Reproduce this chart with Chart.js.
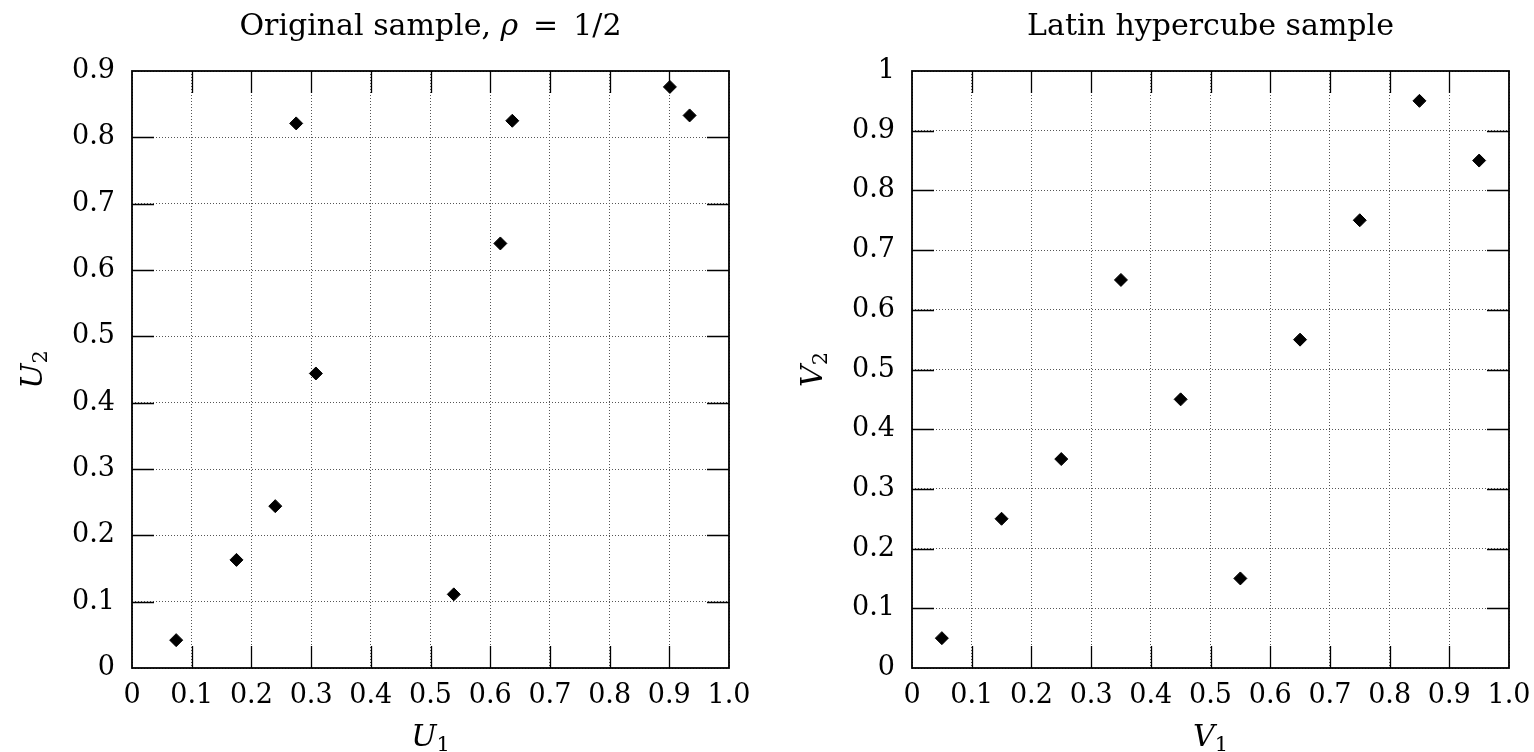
<!DOCTYPE html>
<html>
<head>
<meta charset="utf-8">
<script src="https://cdn.jsdelivr.net/npm/chart.js@4.4.1/dist/chart.umd.min.js"></script>
<style>
  html, body { margin: 0; padding: 0; background: #fff; }
  #wrap { position: relative; width: 1534px; height: 752px; }
  .panel { position: absolute; top: 0; width: 767px; height: 752px; }
</style>
</head>
<body>
<div id="wrap">
  <div class="panel" style="left:0"><canvas id="left" width="767" height="752"></canvas></div>
  <div class="panel" style="left:767px"><canvas id="right" width="767" height="752"></canvas></div>
</div>
<script>
// original sample (rho = 1/2)
const origU1 = [0.074, 0.175, 0.240, 0.275, 0.308, 0.539, 0.617, 0.637, 0.901, 0.934];
const origU2 = [0.042, 0.163, 0.244, 0.821, 0.444, 0.111, 0.640, 0.825, 0.876, 0.833];

// latin hypercube sample
const lhsV1 = [0.05, 0.15, 0.25, 0.35, 0.45, 0.55, 0.65, 0.75, 0.85, 0.95];
const lhsV2 = [0.05, 0.25, 0.35, 0.65, 0.45, 0.15, 0.55, 0.75, 0.95, 0.85];

const xTickValues = [0, 0.1, 0.2, 0.3, 0.4, 0.5, 0.6, 0.7, 0.8, 0.9, 1.0];
const xTickLabels = ['0', '0.1', '0.2', '0.3', '0.4', '0.5', '0.6', '0.7', '0.8', '0.9', '1.0'];
const leftYTickValues = [0, 0.1, 0.2, 0.3, 0.4, 0.5, 0.6, 0.7, 0.8, 0.9];
const leftYTickLabels = ['0', '0.1', '0.2', '0.3', '0.4', '0.5', '0.6', '0.7', '0.8', '0.9'];
const rightYTickValues = [0, 0.1, 0.2, 0.3, 0.4, 0.5, 0.6, 0.7, 0.8, 0.9, 1];
const rightYTickLabels = ['0', '0.1', '0.2', '0.3', '0.4', '0.5', '0.6', '0.7', '0.8', '0.9', '1'];

const FONT = '"DejaVu Serif", "Liberation Serif", serif';
const SIZE = 27;
const TITLE_SIZE = 30;

function zip(xs, ys) {
    return xs.map((x, i) => ({x: x, y: ys[i]}));
}

// draw a row of text pieces with their own fonts, centred on x
function drawRuns(ctx, runs, x, y) {
    let total = 0;
    runs.forEach(r => {
        ctx.font = r.font;
        total += ctx.measureText(r.text).width;
    });
    let cx = x - total / 2;
    runs.forEach(r => {
        ctx.font = r.font;
        ctx.fillText(r.text, cx, y + (r.dy || 0));
        cx += ctx.measureText(r.text).width;
    });
}

const sketchPlugin = {
    id: 'sketch',
    beforeDatasetsDraw(chart) {
        const {ctx, chartArea: a, scales} = chart;
        ctx.save();
        ctx.strokeStyle = '#000';
        ctx.lineWidth = 1.3;
        ctx.beginPath();
        scales.x.ticks.forEach(t => {
            if (t.value <= scales.x.min || t.value >= scales.x.max) return;
            const px = Math.round(scales.x.getPixelForValue(t.value)) + 0.5;
            ctx.moveTo(px, a.bottom); ctx.lineTo(px, a.bottom - 22);
            ctx.moveTo(px, a.top); ctx.lineTo(px, a.top + 22);
        });
        scales.y.ticks.forEach(t => {
            if (t.value <= scales.y.min || t.value >= scales.y.max) return;
            const py = Math.round(scales.y.getPixelForValue(t.value)) + 0.5;
            ctx.moveTo(a.left, py); ctx.lineTo(a.left + 22, py);
            ctx.moveTo(a.right, py); ctx.lineTo(a.right - 22, py);
        });
        ctx.stroke();
        ctx.lineWidth = 1.8;
        ctx.strokeRect(a.left, a.top, a.right - a.left, a.bottom - a.top);
        ctx.restore();
    },
    afterDraw(chart, args, opts) {
        const {ctx, chartArea: a} = chart;
        const cx = (a.left + a.right) / 2;
        ctx.save();
        ctx.fillStyle = '#000';
        ctx.textBaseline = 'alphabetic';
        drawRuns(ctx, opts.title, cx, a.top - 36);
        drawRuns(ctx, opts.xLabel, cx, a.bottom + 78);
        ctx.translate(a.left - 90, (a.top + a.bottom) / 2);
        ctx.rotate(-Math.PI / 2);
        drawRuns(ctx, opts.yLabel, 0, 0);
        ctx.restore();
    }
};

function axisLabel(letter, sub) {
    return [
        {text: letter, font: 'italic 30px ' + FONT},
        {text: sub, font: '21px ' + FONT, dy: 5}
    ];
}

function makeChart(id, points, yMax, yTicks, yLabels, yWidth, padRight, title, xLab, yLab) {
    const tickFont = {family: FONT, size: SIZE};
    return new Chart(document.getElementById(id), {
        type: 'scatter',
        data: {
            datasets: [{
                data: points,
                pointStyle: 'rectRot',
                pointRadius: 6.5,
                pointBorderWidth: 1,
                backgroundColor: '#000',
                borderColor: '#000',
                clip: false
            }]
        },
        options: {
            responsive: false,
            animation: false,
            devicePixelRatio: 1,
            layout: {padding: {top: 71, right: padRight, left: 0, bottom: 0}},
            plugins: {
                legend: {display: false},
                tooltip: {enabled: false},
                sketch: {title: title, xLabel: xLab, yLabel: yLab}
            },
            scales: {
                x: {
                    type: 'linear',
                    min: 0,
                    max: 1,
                    afterBuildTicks: s => { s.ticks = xTickValues.map(v => ({value: v})); },
                    afterFit: s => { s.height = 84; s.paddingLeft = 0; s.paddingRight = 0; },
                    grid: {color: '#555', lineWidth: 1, drawTicks: false},
                    border: {display: false, dash: [1, 2]},
                    ticks: {
                        padding: 12,
                        color: '#000',
                        font: tickFont,
                        autoSkip: false,
                        maxRotation: 0,
                        callback: (v, i) => xTickLabels[i]
                    }
                },
                y: {
                    type: 'linear',
                    min: 0,
                    max: yMax,
                    afterBuildTicks: s => { s.ticks = yTicks.map(v => ({value: v})); },
                    afterFit: s => { s.width = yWidth; s.paddingTop = 0; s.paddingBottom = 0; },
                    grid: {color: '#555', lineWidth: 1, drawTicks: false},
                    border: {display: false, dash: [1, 2]},
                    ticks: {
                        padding: 17,
                        color: '#000',
                        font: tickFont,
                        autoSkip: false,
                        callback: (v, i) => yLabels[i]
                    }
                }
            }
        },
        plugins: [sketchPlugin]
    });
}

makeChart('left', zip(origU1, origU2), 0.9, leftYTickValues, leftYTickLabels, 132, 38,
    [
        {text: 'Original sample, ', font: TITLE_SIZE + 'px ' + FONT},
        {text: 'ρ', font: 'italic ' + TITLE_SIZE + 'px ' + FONT},
        {text: '\u2002=\u20021/2', font: TITLE_SIZE + 'px ' + FONT}
    ],
    axisLabel('U', '1'), axisLabel('U', '2'));

makeChart('right', zip(lhsV1, lhsV2), 1, rightYTickValues, rightYTickLabels, 145, 25,
    [{text: 'Latin hypercube sample', font: TITLE_SIZE + 'px ' + FONT}],
    axisLabel('V', '1'), axisLabel('V', '2'));
</script>
</body>
</html>
